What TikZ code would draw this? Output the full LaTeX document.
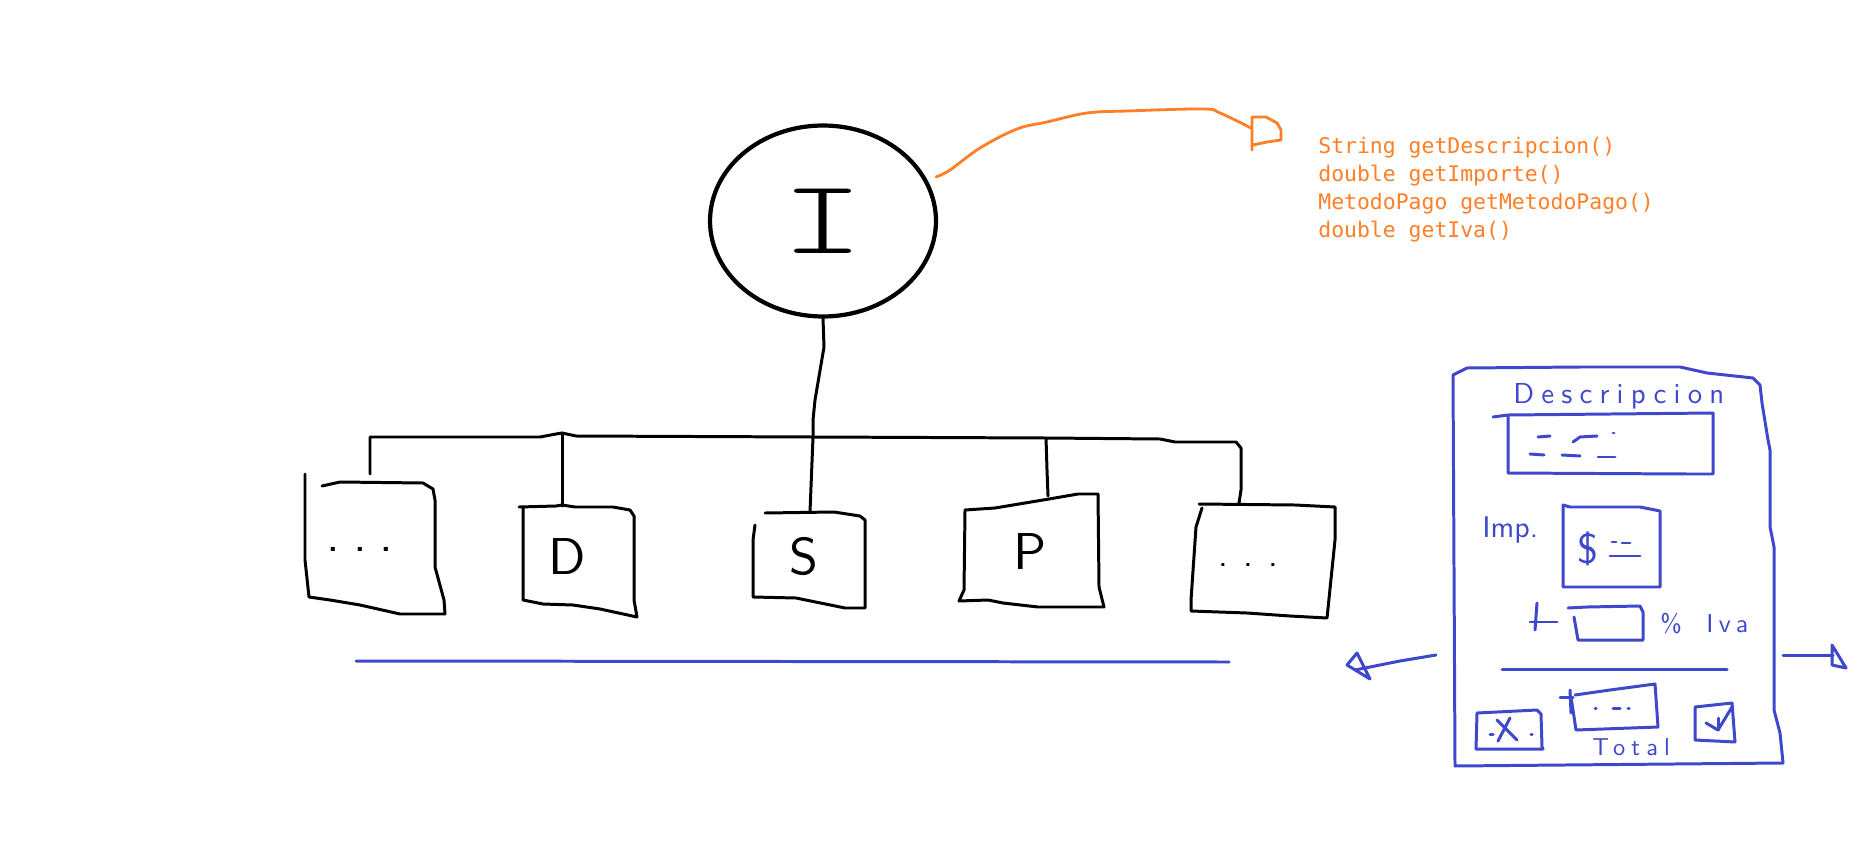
\documentclass[tikz,border=0pt]{standalone}
\usepackage{fontspec}
\usetikzlibrary{shapes.geometric}
\newfontfamily\codefont{DejaVu Sans Mono}
\newfontfamily\monoI{lmmonolt10-regular.otf}
\newfontfamily\handfont{lmsans10-regular.otf}
\newfontfamily\handwide{lmsans10-regular.otf}[LetterSpace=25]
\newfontfamily\handmid{lmsans10-regular.otf}[LetterSpace=20]
\definecolor{pblue}{HTML}{3F48CC}
\definecolor{porange}{HTML}{FF7F27}
\tikzset{
  ink/.style={line width=1.7pt, line cap=round, line join=round},
  blueink/.style={ink, draw=pblue},
  orangeink/.style={line width=1.6pt, line cap=round, line join=round, draw=porange},
  letter/.style={inner sep=0pt, font=\handfont\fontsize{29.5pt}{30pt}\selectfont},
  hand/.style={inner sep=0pt, text=pblue, anchor=base west},
  dotsA/.style={inner sep=0pt, font=\handfont\fontsize{28pt}{28pt}\selectfont},
  dotsB/.style={inner sep=0pt, font=\handfont\fontsize{20pt}{20pt}\selectfont},
}
\begin{document}
\begin{tikzpicture}[x=0.02cm,y=-0.02cm]
\useasboundingbox (0,0) rectangle (1875,858);
\fill[white] (0,0) rectangle (1875,858);

% ---------- interface ----------
\node[ellipse, draw, line width=2.4pt, minimum width=4.52cm, minimum height=3.82cm, inner sep=0pt,
      font=\monoI\fontsize{60pt}{60pt}\selectfont] (iface) at (823,221) {\scalebox{1.5}[1]{I}};

% orange realisation arrow
\coordinate (oStart) at (936,177);
\coordinate (oEnd) at (1251,128);
\draw[orangeink] plot[smooth, tension=0.6] coordinates {(oStart) (950,170) (980,148) (1017,129) (1047,122) (1087,113) (1127,111) (1203,109) (1220,113) (oEnd)};
\draw[orangeink] (1252,150) -- (1252,117) -- (1266,117) -- (1277,123) -- (1281,130) -- (1281,140) -- (1267,142) -- (1253,145);

\node[anchor=north west, inner sep=0pt, align=left, text=porange,
      font=\codefont\fontsize{12.2pt}{15.9pt}\selectfont] (methods) at (1318,137)
      {String getDescripcion()\\double getImporte()\\MetodoPago getMetodoPago()\\double getIva()};

% ---------- implementation boxes ----------
% box 1
\draw[ink] (305,474) -- (305,560) -- (309,597) -- (330,600) -- (360,605) -- (400,614) -- (445,614)
  -- (444,600) -- (435,567) -- (435,500) -- (433,489) -- (423,483) -- (340,482) -- (322,486);
\node[dotsA] (dots1) at (360,549) {.\hspace{7.5pt}.\hspace{7.5pt}.};
% box D
\draw[ink] (519,507) -- (556,506) -- (562,505) -- (575,507) -- (613,507) -- (630,510) -- (634,516) -- (634,600) -- (637,617)
  -- (600,609) -- (573,605) -- (543,604) -- (523,600) -- (523,507);
\node[letter] (dLabel) at (567,557) {D};
% box S
\draw[ink] (755,525) -- (753,540) -- (753,597) -- (796,598) -- (845,608) -- (865,608) -- (865,520) -- (860,516)
  -- (834,512) -- (765,513);
\node[letter] (sLabel) at (804,557) {S};
% box P
\draw[ink] (965,510) -- (995,508) -- (1049,499) -- (1078,494) -- (1098,494) -- (1099,587) -- (1104,607)
  -- (1038,607) -- (1003,603) -- (988,600) -- (959,601) -- (964,590) -- cycle;
\node[letter] (pLabel) at (1030,552) {P};
% box 5
\draw[ink] (1199,504) -- (1295,505) -- (1335,507) -- (1335,540) -- (1327,618) -- (1290,616) -- (1247,613)
  -- (1191,611) -- (1191,600) -- (1196,527) -- (1202,508);
\node[dotsB] (dots5) at (1248,565) {.\hspace{8.6pt}.\hspace{8.6pt}.};

% ---------- connectors ----------
\coordinate (b1top) at (370,474);
\coordinate (busL) at (370,437);
\coordinate (dJoin) at (562,433);
\coordinate (dTop) at (562,506);
\coordinate (sJoin) at (813,437);
\coordinate (sTop) at (810,512);
\coordinate (pJoin) at (1046,438);
\coordinate (pTop) at (1048,496);
\coordinate (b5top) at (1239,503);
\draw[ink] (b1top) -- (busL) -- (540,437) -- (556,434) -- (dJoin) -- (576,436) -- (sJoin) -- (pJoin)
  -- (1160,439) -- (1175,442) -- (1236,442) -- (1241,448) -- (1241,490) -- (b5top);
\draw[ink] (dJoin) -- (dTop);
\draw[ink] (pJoin) -- (1047,470) -- (pTop);
\draw[ink] (iface.south) -- (824,347) -- (815,400) -- (813,420) -- (sJoin) -- (sTop);

% blue underline
\coordinate (ulA) at (356,661);
\coordinate (ulB) at (1229,662);
\draw[blueink] (ulA) -- (ulB);

% ---------- form sketch ----------
\draw[blueink] (1453,375) -- (1467,368) -- (1580,367) -- (1680,367) -- (1707,373) -- (1753,378) -- (1760,385)
  -- (1762,403) -- (1768,440) -- (1770,450) -- (1770,527) -- (1774,547) -- (1774,710) -- (1780,733)
  -- (1783,763) -- (1455,766) -- cycle;

\node[hand, font=\handwide\fontsize{16.4pt}{18pt}\selectfont] (descLabel) at (1513,403) {Descripcion};
\draw[blueink] (1493,417) -- (1508,415) -- (1713,413) -- (1713,474) -- (1688,474) -- (1508,473) -- (1508,415);
\draw[blueink] (1538,437) -- (1550,436);
\draw[blueink] (1573,442) -- (1580,437) -- (1597,436);
\draw[blueink] (1613,433) -- (1614,433);
\draw[blueink] (1530,454) -- (1544,455);
\draw[blueink] (1562,455) -- (1580,456);
\draw[blueink] (1598,457) -- (1615,457);

\node[hand, font=\handfont\fontsize{17pt}{18pt}\selectfont] (impLabel) at (1482,537) {Imp.};
\draw[blueink] (1563,587) -- (1563,505) -- (1570,507) -- (1640,507) -- (1660,511) -- (1660,587) -- cycle;
\node[inner sep=0pt, text=pblue, font=\handfont\fontsize{24pt}{26pt}\selectfont] (dollar) at (1588,549) {\$};
\draw[blueink] (1612,542) -- (1616,542);
\draw[blueink] (1622,543) -- (1630,543);
\draw[blueink] (1610,556) -- (1640,556);

\draw[blueink] (1530,622) -- (1557,622);
\draw[blueink] (1537,603) -- (1535,630);
\draw[blueink] (1574,617) -- (1578,640) -- (1643,640) -- (1643,612) -- (1640,606) -- (1587,607) -- (1568,608);
\node[hand, font=\handfont\fontsize{14.7pt}{16pt}\selectfont] (ivaLabel) at (1660,632) {\%\hspace{14pt}{\handmid Iva}};

\coordinate (sepL) at (1502,669);
\coordinate (sepR) at (1727,669);
\draw[blueink] (sepL) -- (sepR);

% arrows left / right
\coordinate (laStart) at (1436,655);
\coordinate (laTip) at (1355,670);
\draw[blueink] (laStart) -- (1400,661) -- (laTip);
\draw[blueink] (1357,653) -- (1347,665) -- (1370,679) -- cycle;
\coordinate (raStart) at (1783,655);
\coordinate (raEnd) at (1833,655);
\draw[blueink] (raStart) -- (raEnd);
\draw[blueink] (1832,645) -- (1846,668) -- (1832,665) -- cycle;

% total
\draw[blueink] (1560,697) -- (1573,697);
\draw[blueink] (1570,690) -- (1571,713);
\draw[blueink] (1571,697) -- (1576,730) -- (1658,727) -- (1655,684) -- (1610,690) -- (1575,695);
\draw[blueink] (1595,708) -- (1596,708);
\draw[blueink] (1613,708) -- (1620,708);
\draw[blueink] (1628,708) -- (1629,708);
\node[hand, font=\handwide\fontsize{13.9pt}{15pt}\selectfont] (totalLabel) at (1592,755) {Total};

% cancel button
\draw[blueink] (1477,713) -- (1537,710) -- (1541,714) -- (1542,747) -- (1543,749) -- (1476,749) -- cycle;
\draw[blueink] (1497,720) -- (1517,740);
\draw[blueink] (1510,718) -- (1498,741);
\draw[blueink] (1490,734) -- (1493,734);
\draw[blueink] (1531,734) -- (1532,734);

% ok button
\draw[blueink] (1695,707) -- (1732,703) -- (1735,742) -- (1695,740) -- cycle;
\draw[blueink] (1706,723) -- (1718,730) -- (1732,707);
\draw[blueink] (1718,718) -- (1718,730);
\end{tikzpicture}
\end{document}
